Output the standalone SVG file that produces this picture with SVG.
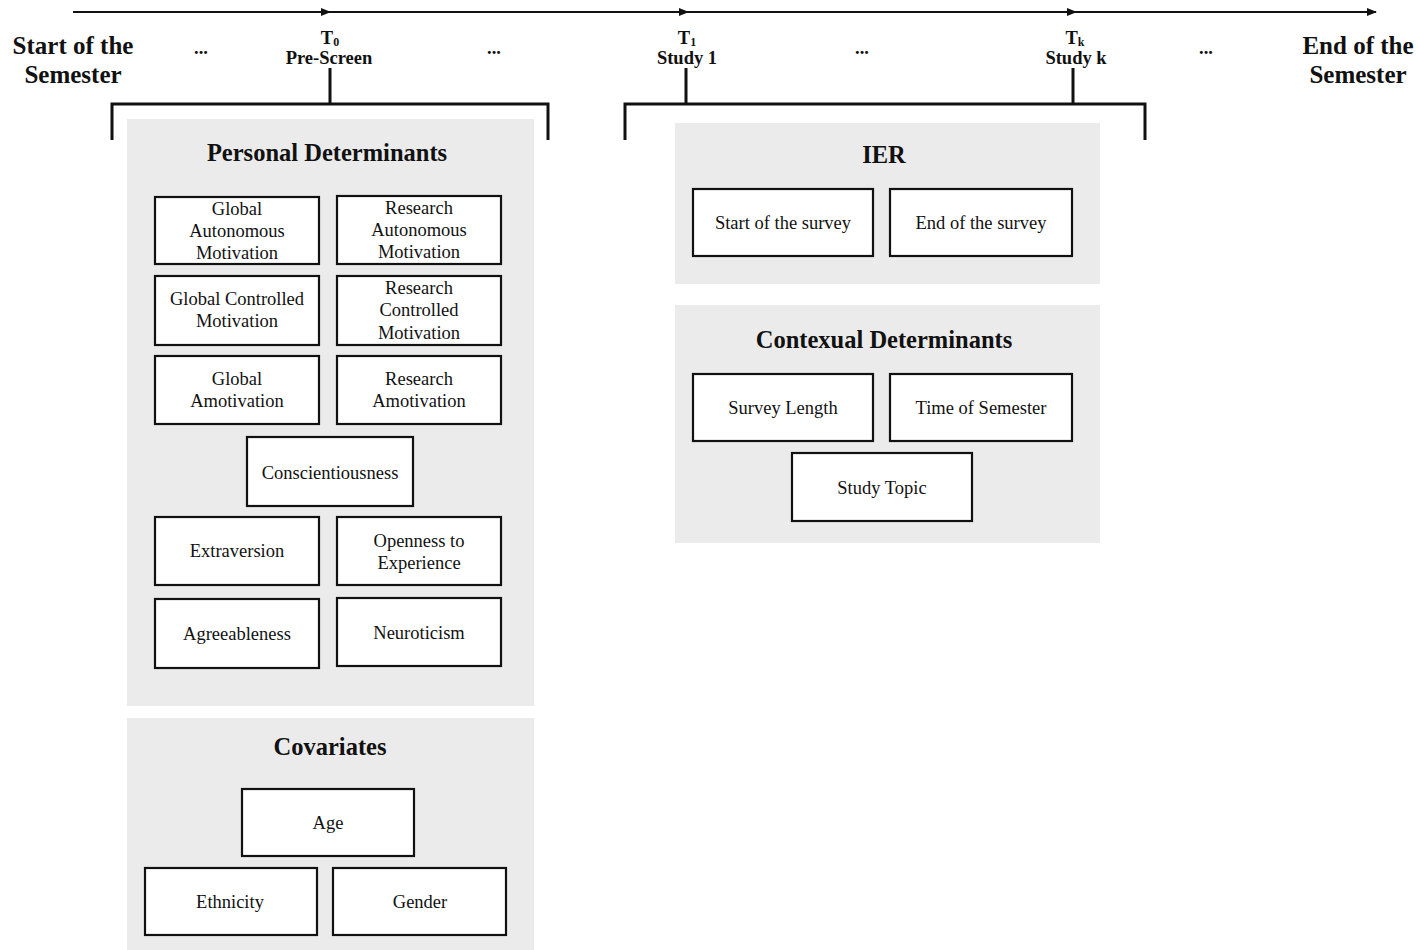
<svg xmlns="http://www.w3.org/2000/svg" width="1418" height="950" viewBox="0 0 1418 950">
<style>
.panel{fill:#ebebeb;stroke:none}
.box{fill:#fff;stroke:#111;stroke-width:2.2}
.t{font-family:"Liberation Serif","Times New Roman",serif;font-size:18.5px;fill:#111;text-anchor:middle}
.h{font-family:"Liberation Serif","Times New Roman",serif;font-size:24.5px;font-weight:bold;fill:#111;text-anchor:middle}
.tl{font-family:"Liberation Serif","Times New Roman",serif;font-size:18.5px;font-weight:bold;fill:#111;text-anchor:middle}
.big{font-family:"Liberation Serif","Times New Roman",serif;font-size:25px;font-weight:bold;fill:#111;text-anchor:middle}
.ln{stroke:#111;stroke-width:2;fill:none}
.br{stroke:#111;stroke-width:3;fill:none}
</style>
<defs>
<marker id="arr" markerWidth="10" markerHeight="8" refX="9" refY="4" orient="auto" markerUnits="userSpaceOnUse">
<path d="M0,0 L10,4 L0,8 z" fill="#111"/>
</marker>
</defs>
<rect width="1418" height="950" fill="#fff"/>

<g id="connectors">
<line class="ln" x1="73" y1="12" x2="330" y2="12" marker-end="url(#arr)"/>
<line class="ln" x1="330" y1="12" x2="688" y2="12" marker-end="url(#arr)"/>
<line class="ln" x1="688" y1="12" x2="1076" y2="12" marker-end="url(#arr)"/>
<line class="ln" x1="1076" y1="12" x2="1376" y2="12" marker-end="url(#arr)"/>
<path class="br" d="M330,68 V104 M112,140 V104 H548 V140"/>
<path class="br" d="M686,68 V104 M1073,68 V104 M625,140 V104 H1145 V140"/>
</g>

<g id="timeline-labels">
<text class="big" x="73" y="54">Start of the</text>
<text class="big" x="73" y="83">Semester</text>
<text class="tl" x="201" y="54">...</text>
<text class="tl" x="494" y="54">...</text>
<text class="tl" x="862" y="54">...</text>
<text class="tl" x="1206" y="54">...</text>
<text class="tl" x="330" y="44">T<tspan font-size="12" dy="2">0</tspan></text>
<text class="tl" x="329" y="64">Pre-Screen</text>
<text class="tl" x="687" y="44">T<tspan font-size="12" dy="2">1</tspan></text>
<text class="tl" x="687" y="64">Study 1</text>
<text class="tl" x="1075" y="44">T<tspan font-size="12" dy="2">k</tspan></text>
<text class="tl" x="1076" y="64">Study k</text>
<text class="big" x="1358" y="54">End of the</text>
<text class="big" x="1358" y="83">Semester</text>
</g>

<g id="personal-determinants">
<rect class="panel" x="127" y="119" width="407" height="587"/>
<text class="h" x="327" y="161">Personal Determinants</text>
</g>
<g id="global-autonomous"><rect class="box" x="155" y="197" width="164" height="67"/>
<text class="t" x="237" y="215">Global</text><text class="t" x="237" y="237">Autonomous</text><text class="t" x="237" y="259">Motivation</text></g>
<g id="research-autonomous"><rect class="box" x="337" y="196" width="164" height="68"/>
<text class="t" x="419" y="214">Research</text><text class="t" x="419" y="236">Autonomous</text><text class="t" x="419" y="258">Motivation</text></g>
<g id="global-controlled"><rect class="box" x="155" y="276" width="164" height="69"/>
<text class="t" x="237" y="305">Global Controlled</text><text class="t" x="237" y="327">Motivation</text></g>
<g id="research-controlled"><rect class="box" x="337" y="276" width="164" height="69"/>
<text class="t" x="419" y="294">Research</text><text class="t" x="419" y="316">Controlled</text><text class="t" x="419" y="339">Motivation</text></g>
<g id="global-amotivation"><rect class="box" x="155" y="356" width="164" height="68"/>
<text class="t" x="237" y="385">Global</text><text class="t" x="237" y="407">Amotivation</text></g>
<g id="research-amotivation"><rect class="box" x="337" y="356" width="164" height="68"/>
<text class="t" x="419" y="385">Research</text><text class="t" x="419" y="407">Amotivation</text></g>
<g id="conscientiousness"><rect class="box" x="247" y="437" width="166" height="69"/>
<text class="t" x="330" y="479">Conscientiousness</text></g>
<g id="extraversion"><rect class="box" x="155" y="517" width="164" height="68"/>
<text class="t" x="237" y="557">Extraversion</text></g>
<g id="openness"><rect class="box" x="337" y="517" width="164" height="68"/>
<text class="t" x="419" y="547">Openness to</text><text class="t" x="419" y="569">Experience</text></g>
<g id="agreeableness"><rect class="box" x="155" y="599" width="164" height="69"/>
<text class="t" x="237" y="640">Agreeableness</text></g>
<g id="neuroticism"><rect class="box" x="337" y="598" width="164" height="68"/>
<text class="t" x="419" y="639">Neuroticism</text></g>

<g id="covariates">
<rect class="panel" x="127" y="718" width="407" height="232"/>
<text class="h" x="330" y="755">Covariates</text>
</g>
<g id="age"><rect class="box" x="242" y="789" width="172" height="67"/>
<text class="t" x="328" y="829">Age</text></g>
<g id="ethnicity"><rect class="box" x="145" y="868" width="172" height="67"/>
<text class="t" x="230" y="908">Ethnicity</text></g>
<g id="gender"><rect class="box" x="333" y="868" width="173" height="67"/>
<text class="t" x="420" y="908">Gender</text></g>

<g id="ier">
<rect class="panel" x="675" y="123" width="425" height="161"/>
<text class="h" x="884" y="163">IER</text>
</g>
<g id="start-survey"><rect class="box" x="693" y="189" width="180" height="67"/>
<text class="t" x="783" y="229">Start of the survey</text></g>
<g id="end-survey"><rect class="box" x="890" y="189" width="182" height="67"/>
<text class="t" x="981" y="229">End of the survey</text></g>

<g id="contextual">
<rect class="panel" x="675" y="305" width="425" height="238"/>
<text class="h" x="884" y="348">Contexual Determinants</text>
</g>
<g id="survey-length"><rect class="box" x="693" y="374" width="180" height="67"/>
<text class="t" x="783" y="414">Survey Length</text></g>
<g id="time-semester"><rect class="box" x="890" y="374" width="182" height="67"/>
<text class="t" x="981" y="414">Time of Semester</text></g>
<g id="study-topic"><rect class="box" x="792" y="453" width="180" height="68"/>
<text class="t" x="882" y="494">Study Topic</text></g>
</svg>
